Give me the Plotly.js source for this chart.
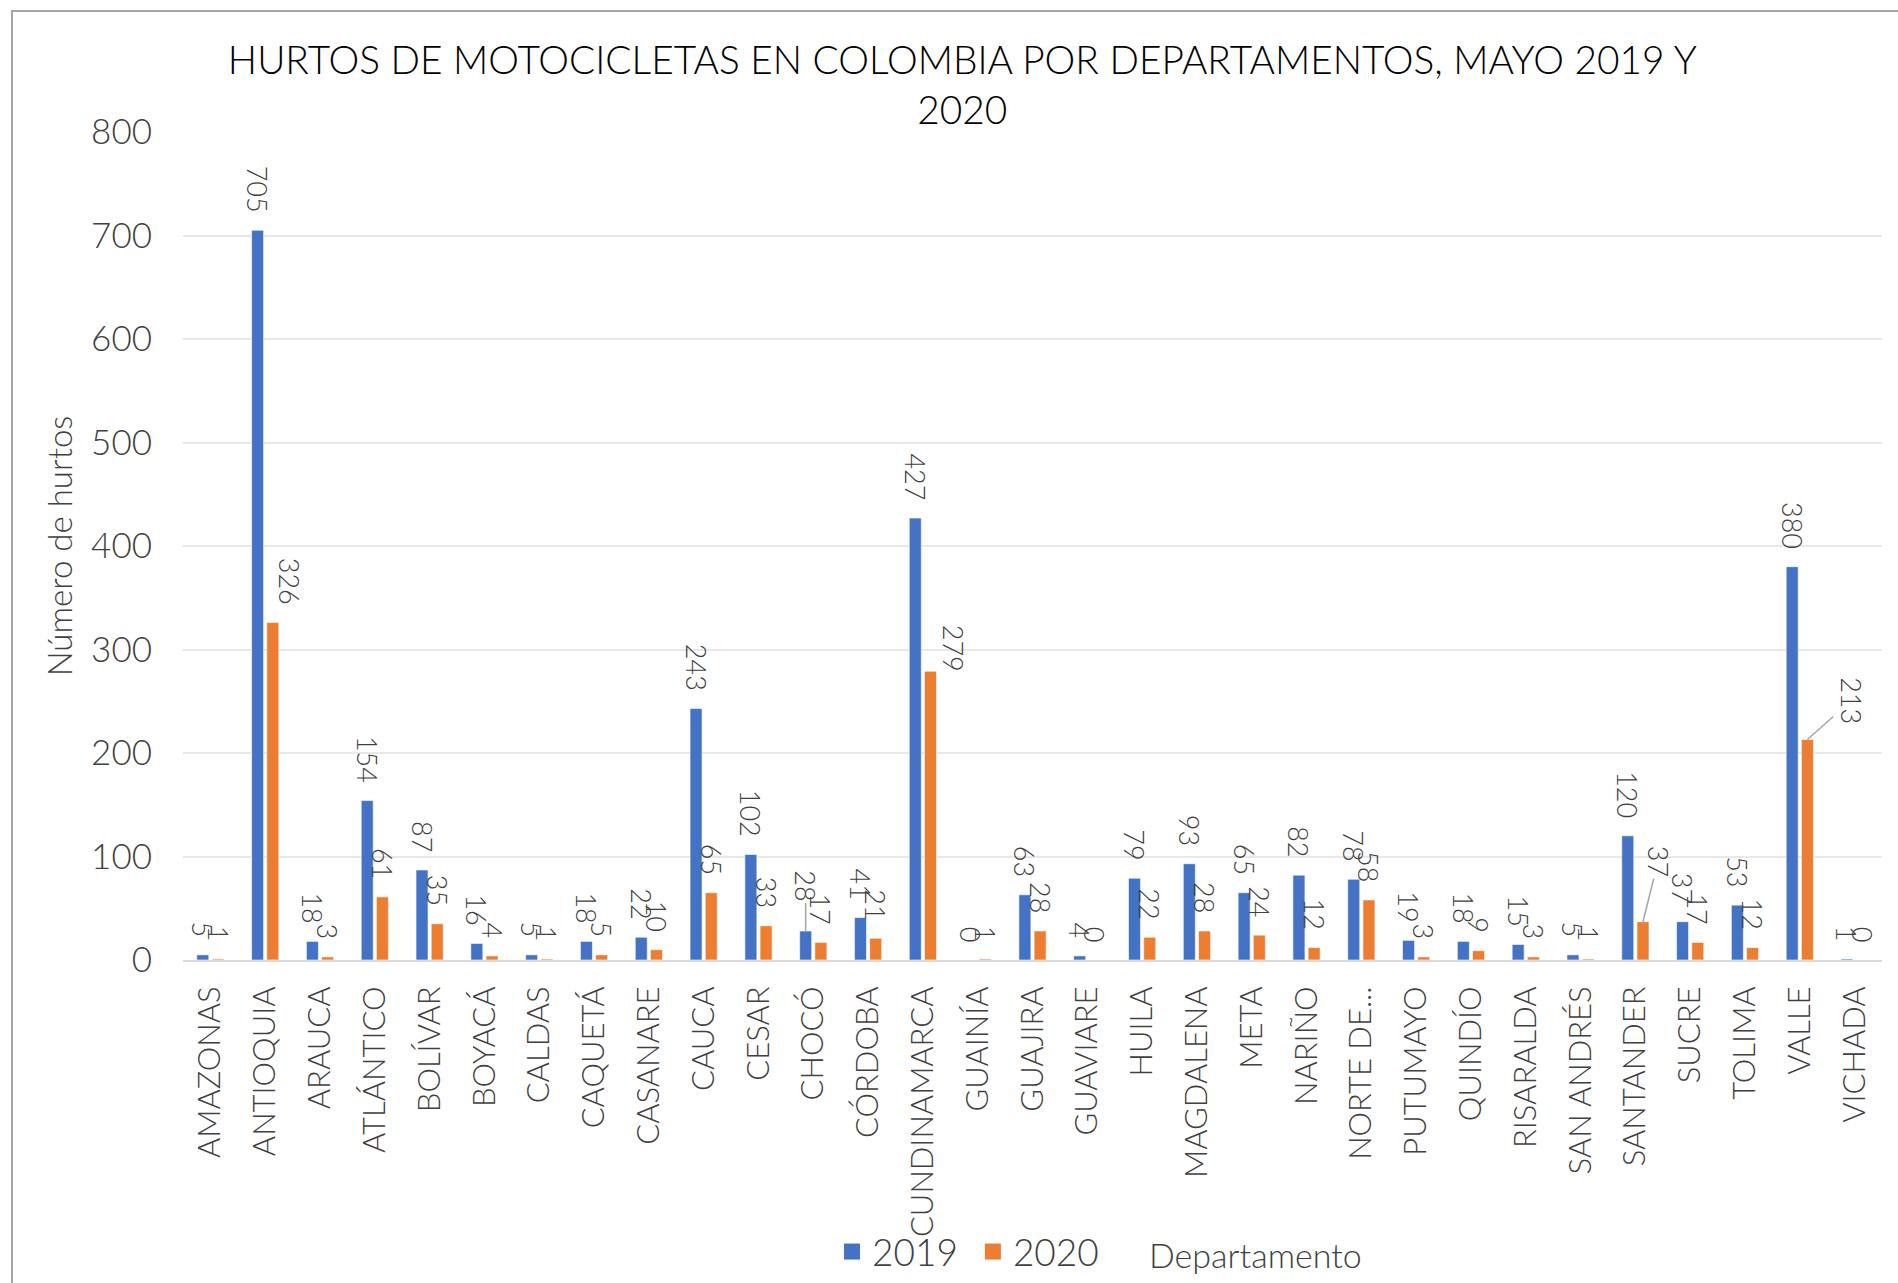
<!DOCTYPE html>
<html>
<head>
<meta charset="utf-8">
<script src="https://cdn.plot.ly/plotly-3.0.1.min.js"></script>
<style>
  html, body { margin: 0; padding: 0; background: #ffffff; }
  #chart { width: 1898px; height: 1283px; }
</style>
</head>
<body>
<div id="chart"></div>
<script>
const departamentos = [
  "AMAZONAS", "ANTIOQUIA", "ARAUCA", "ATLÁNTICO", "BOLÍVAR", "BOYACÁ", "CALDAS",
  "CAQUETÁ", "CASANARE", "CAUCA", "CESAR", "CHOCÓ", "CÓRDOBA", "CUNDINAMARCA",
  "GUAINÍA", "GUAJIRA", "GUAVIARE", "HUILA", "MAGDALENA", "META", "NARIÑO",
  "NORTE DE...", "PUTUMAYO", "QUINDÍO", "RISARALDA", "SAN ANDRÉS", "SANTANDER",
  "SUCRE", "TOLIMA", "VALLE", "VICHADA"
];
const hurtos2019 = [5, 705, 18, 154, 87, 16, 5, 18, 22, 243, 102, 28, 41, 427, 0, 63, 4, 79, 93, 65, 82, 78, 19, 18, 15, 5, 120, 37, 53, 380, 1];
const hurtos2020 = [1, 326, 3, 61, 35, 4, 1, 5, 10, 65, 33, 17, 21, 279, 1, 28, 0, 22, 28, 24, 12, 58, 3, 9, 3, 1, 37, 17, 12, 213, 0];
const yTicks = [0, 100, 200, 300, 400, 500, 600, 700, 800];
const seriesNames = ["2019", "2020"];
const seriesColors = ["#4472C4", "#ED7D31"];
const seriesValues = [hurtos2019, hurtos2020];

// Data labels that were moved by hand in the original (pixel offsets of the label centre from the bar top)
const labelMoves = [
  { series: 1, dept: "ANTIOQUIA", dx: 17, dy: -41, leader: false },
  { series: 1, dept: "CUNDINAMARCA", dx: 23, dy: -23, leader: false },
  { series: 0, dept: "CHOCÓ", dx: 0, dy: -45, leader: true },
  { series: 1, dept: "SANTANDER", dx: 15, dy: -60, leader: true },
  { series: 1, dept: "VALLE", dx: 44, dy: -39, leader: true }
];

const FONT = "Lato, 'Open Sans', sans-serif";
const W = 300;
const labelFont = { family: FONT, size: 27, color: "#404040", weight: W };

const margin = { l: 183, r: 16, t: 132, b: 323 };
const plotW = 1898 - margin.l - margin.r;
const plotH = 1283 - margin.t - margin.b;
const bargap = 0.445;
const catW = plotW / departamentos.length;
const slotW = catW * (1 - bargap) / 2;
const barOffset = [-slotW / 2, slotW / 2];

function isMoved(s, i) {
  return labelMoves.some(m => m.series === s && m.dept === departamentos[i]);
}

function barTrace(s) {
  const values = seriesValues[s];
  return {
    type: "bar",
    name: seriesNames[s],
    legendgroup: seriesNames[s],
    showlegend: false,
    x: departamentos,
    y: values,
    marker: { color: seriesColors[s], line: { color: "rgba(255,255,255,0.6)", width: 1 } },
    text: values.map((v, i) => isMoved(s, i) ? "" : String(v) + "\u00A0\u00A0"),
    textposition: "outside",
    textangle: 90,
    constraintext: "none",
    cliponaxis: false,
    textfont: labelFont,
    hoverinfo: "x+y+name"
  };
}

function legendTrace(s) {
  return {
    type: "scatter",
    mode: "markers",
    name: seriesNames[s] + (s === 0 ? "\u00A0" : ""),
    legendgroup: seriesNames[s],
    x: [null],
    y: [null],
    marker: { symbol: "square", size: 16, color: seriesColors[s] },
    hoverinfo: "skip"
  };
}

const data = [barTrace(0), barTrace(1), legendTrace(0), legendTrace(1)];

const movedAnnotations = labelMoves.map(m => {
  const i = departamentos.indexOf(m.dept);
  const v = seriesValues[m.series][i];
  const a = {
    x: m.dept,
    y: v,
    xref: "x",
    yref: "y",
    text: String(v),
    textangle: 90,
    font: labelFont,
    xshift: barOffset[m.series]
  };
  if (m.leader) {
    Object.assign(a, {
      showarrow: true,
      ax: m.dx,
      ay: m.dy,
      arrowhead: 0,
      arrowwidth: 1.5,
      arrowcolor: "#a6a6a6",
      standoff: 0,
      startstandoff: 0
    });
  } else {
    Object.assign(a, {
      showarrow: false,
      xanchor: "center",
      yanchor: "middle",
      xshift: barOffset[m.series] + m.dx,
      yshift: -m.dy
    });
  }
  return a;
});

const layout = {
  width: 1898,
  height: 1283,
  paper_bgcolor: "#ffffff",
  plot_bgcolor: "#ffffff",
  font: { family: FONT, color: "#404040", weight: W },
  margin: margin,
  barmode: "group",
  bargap: bargap,
  bargroupgap: 0.21,
  title: {
    text: "HURTOS DE MOTOCICLETAS EN COLOMBIA POR DEPARTAMENTOS, MAYO 2019 Y<br>2020",
    font: { family: FONT, size: 38.8, color: "#000000", weight: W },
    x: 0.507,
    xanchor: "center",
    y: 1 - 74 / 1283,
    yanchor: "top"
  },
  xaxis: {
    type: "category",
    tickangle: -90,
    tickfont: { family: FONT, size: 31, color: "#404040", weight: W },
    ticks: "",
    ticklabelstandoff: 12,
    showline: true,
    linecolor: "#d9d9d9",
    linewidth: 2,
    showgrid: false,
    automargin: false
  },
  yaxis: {
    range: [0, 800],
    tickvals: yTicks,
    ticktext: yTicks.map(String),
    tickfont: { family: FONT, size: 35, color: "#404040", weight: W },
    showgrid: true,
    gridcolor: "#e8e8e8",
    gridwidth: 2,
    zeroline: false,
    showline: false,
    ticks: "",
    ticklabelstandoff: 30,
    automargin: false,
    title: {
      text: "Número de hurtos",
      font: { family: FONT, size: 33, color: "#404040", weight: W },
      standoff: 8
    }
  },
  showlegend: true,
  legend: {
    orientation: "h",
    xref: "container",
    yref: "container",
    x: 832 / 1898,
    xanchor: "left",
    y: 1 - 1252 / 1283,
    yanchor: "middle",
    font: { family: FONT, size: 37, color: "#404040", weight: W },
    bgcolor: "rgba(0,0,0,0)",
    itemsizing: "trace",
    traceorder: "normal"
  },
  annotations: movedAnnotations.concat([
    {
      text: "Departamento",
      xref: "paper",
      yref: "paper",
      x: (1255 - margin.l) / plotW,
      y: (960 - 1254) / plotH,
      xanchor: "center",
      yanchor: "middle",
      showarrow: false,
      font: { family: FONT, size: 34, color: "#404040", weight: W }
    }
  ]),
  shapes: [
    {
      type: "rect",
      xref: "paper",
      yref: "paper",
      x0: (12 - margin.l) / plotW,
      x1: (2100 - margin.l) / plotW,
      y0: (960 - 1500) / plotH,
      y1: (960 - 11) / plotH,
      line: { color: "#a6a6a6", width: 2 },
      fillcolor: "rgba(0,0,0,0)",
      layer: "below"
    }
  ]
};

Plotly.newPlot("chart", data, layout, { displayModeBar: false, responsive: false });
</script>
</body>
</html>
